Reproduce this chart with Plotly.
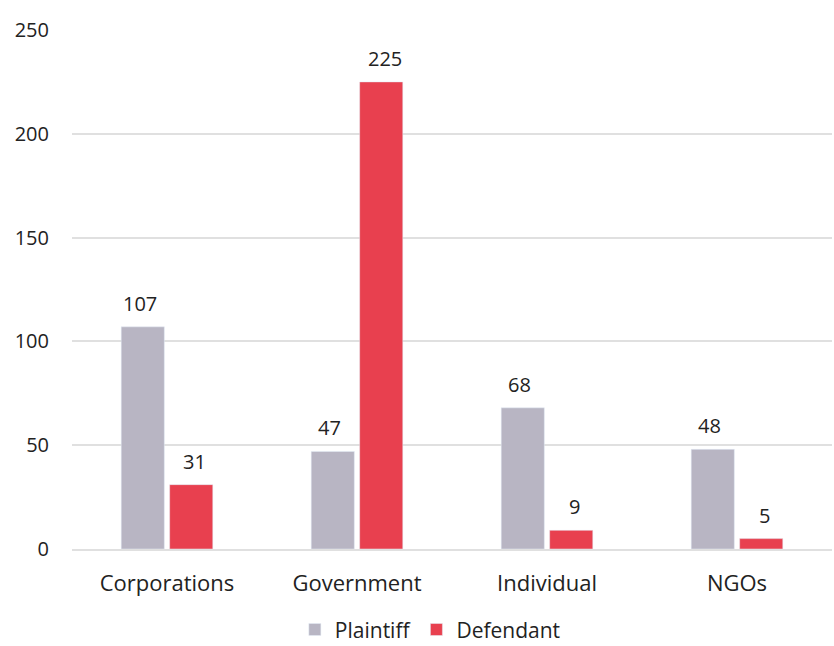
import plotly.graph_objects as go

categories = ["Corporations", "Government", "Individual", "NGOs"]
plaintiff = [107, 47, 68, 48]
defendant = [31, 225, 9, 5]

font_family = "Open Sans"
text_color = "#222222"
fsize = 20

fig = go.Figure()
fig.add_trace(go.Bar(name="Plaintiff", x=categories, y=plaintiff, marker_color="#b8b5c3"))
fig.add_trace(go.Bar(name="Defendant", x=categories, y=defendant, marker_color="#e8404f"))

# value labels above bars
for series, shift in ((plaintiff, -27.5), (defendant, 27.5)):
    for cat, val in zip(categories, series):
        fig.add_annotation(x=cat, y=val, text=str(val), showarrow=False,
                           xshift=shift, yshift=8, yanchor="bottom",
                           font=dict(size=fsize, color=text_color, family=font_family))

fig.update_layout(
    width=834, height=646,
    margin=dict(l=72, r=2, t=30, b=97, autoexpand=False),
    barmode="group", bargap=0.49, bargroupgap=0.11,
    plot_bgcolor="white", paper_bgcolor="white",
    font=dict(family=font_family, size=fsize, color=text_color),
    showlegend=True,
    legend=dict(orientation="h", x=0.516, xanchor="center", xref="container",
                yref="container", y=0.025, yanchor="middle",
                font=dict(size=21, color=text_color), traceorder="normal",
                itemwidth=30),
)
fig.update_yaxes(range=[0, 250], dtick=50, showgrid=True, gridcolor="#e0e0e0", gridwidth=1.5,
                 zeroline=False, showline=False, ticks="", ticklabelstandoff=22,
                 tickfont=dict(size=fsize, color=text_color))
fig.update_xaxes(showline=True, linecolor="#e0e0e0", linewidth=1.5, ticks="",
                 tickfont=dict(size=22, color=text_color), ticklabelstandoff=14)

fig.write_html("out.html", config={"displayModeBar": False},
               post_script="document.body.style.margin='0';")
